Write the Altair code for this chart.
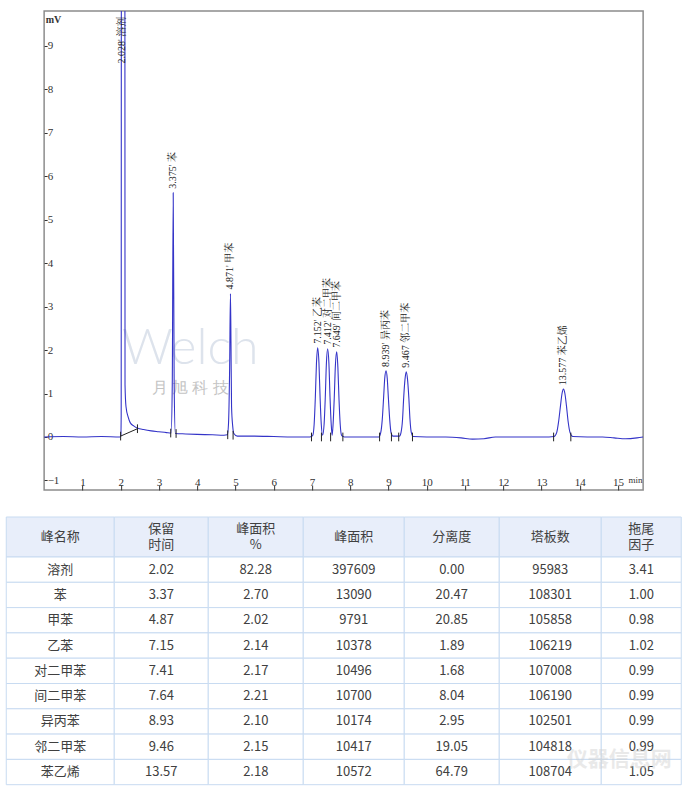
import altair as alt
import pandas as pd

SERIF = "Times New Roman, Liberation Serif, Noto Serif CJK SC, serif"
SANS = "Microsoft YaHei, Noto Sans CJK SC, Noto Sans, sans-serif"

# ---------------- chromatogram trace (min, mV) ----------------
trace_t = [0.0, 0.5, 1.0, 1.5, 1.98, 2.005, 2.015, 2.02, 2.11, 2.115, 2.14, 2.2, 2.25, 2.35,
           2.45, 2.6, 2.8, 3.0, 3.2, 3.32, 3.35, 3.375, 3.40, 3.43, 3.7, 4.0, 4.4, 4.7,
           4.79, 4.82, 4.85, 4.871, 4.885, 4.90, 4.93, 4.96, 5.05, 5.5, 6.0, 6.5, 6.95,
           7.02, 7.06, 7.09, 7.12, 7.152, 7.185, 7.215, 7.245, 7.28,
           7.32, 7.35, 7.38, 7.412, 7.445, 7.475, 7.505, 7.53,
           7.555, 7.585, 7.615, 7.649, 7.68, 7.71, 7.74, 7.78, 7.85, 8.3, 8.75,
           8.80, 8.84, 8.875, 8.905, 8.939, 8.97, 9.0, 9.035, 9.07, 9.12,
           9.29, 9.33, 9.37, 9.40, 9.435, 9.467, 9.50, 9.535, 9.565, 9.60, 9.65,
           10.0, 10.5, 10.9, 11.2, 11.5, 11.8, 12.5, 13.2,
           13.33, 13.40, 13.45, 13.50, 13.54, 13.577, 13.615, 13.655, 13.70, 13.75, 13.82,
           14.2, 14.6, 14.9, 15.2, 15.5, 15.66]
trace_mv = [0.0, 0.01, 0.0, 0.01, 0.0, 0.02, 0.5, 14.0, 14.0, 1.2, 0.7, 0.45, 0.33, 0.25,
            0.2, 0.17, 0.14, 0.12, 0.1, 0.09, 1.2, 5.62, 1.2, 0.08, 0.07, 0.06, 0.05, 0.04,
            0.05, 0.3, 1.6, 3.3, 2.2, 0.7, 0.25, 0.08, 0.02, 0.02, 0.01, 0.0, 0.0,
            0.03, 0.3, 0.9, 1.7, 2.05, 1.7, 0.9, 0.3, 0.04,
            0.3, 0.9, 1.7, 2.03, 1.7, 0.9, 0.3, 0.04,
            0.3, 0.9, 1.65, 1.96, 1.6, 0.85, 0.3, 0.03, 0.0, 0.0, 0.0,
            0.1, 0.4, 0.9, 1.35, 1.52, 1.35, 0.9, 0.4, 0.1, 0.02,
            0.02, 0.1, 0.4, 0.9, 1.33, 1.50, 1.33, 0.9, 0.4, 0.1, 0.01,
            0.0, 0.0, -0.02, -0.05, -0.04, 0.0, 0.0, 0.0,
            0.01, 0.1, 0.35, 0.72, 1.0, 1.10, 1.0, 0.72, 0.35, 0.1, 0.01,
            0.0, 0.0, -0.02, -0.04, -0.02, 0.0]

# peak annotations
peak_t = [2.028, 3.375, 4.871, 7.152, 7.412, 7.649, 8.939, 9.467, 13.577]
peak_label = ["2.028'  溶剂", "3.375'  苯", "4.871'  甲苯", "7.152'  乙苯", "7.412'  对二甲苯",
              "7.649'  间二甲苯", "8.939'  异丙苯", "9.467  邻二甲苯", "13.577  苯乙烯"]
label_mv = [8.5, 5.62, 3.3, 2.05, 2.03, 1.96, 1.52, 1.50, 1.10]

# integration markers (start / end of each peak) and solvent baseline segment
mark_t = [2.0, 2.44, 3.31, 3.45, 4.80, 4.94, 6.99, 7.25, 7.49, 7.81, 8.77, 9.08, 9.27, 9.63, 13.32, 13.77]
mark_mv = [0.02, 0.19, 0.09, 0.08, 0.05, 0.04, 0.0, 0.0, 0.0, 0.0, 0.0, 0.0, 0.0, 0.0, 0.0, 0.0]
seg_t0, seg_t1 = [2.0], [2.44]
seg_mv0, seg_mv1 = [0.02], [0.19]

x_tick_values = list(range(1, 16))
y_tick_values = list(range(-1, 10))

# ---------------- table ----------------
header = ["峰名称", "保留\n时间", "峰面积\n%", "峰面积", "分离度", "塔板数", "拖尾\n因子"]
names = ["溶剂", "苯", "甲苯", "乙苯", "对二甲苯", "间二甲苯", "异丙苯", "邻二甲苯", "苯乙烯"]
ret_time = [2.02, 3.37, 4.87, 7.15, 7.41, 7.64, 8.93, 9.46, 13.57]
area_pct = [82.28, 2.70, 2.02, 2.14, 2.17, 2.21, 2.10, 2.15, 2.18]
area = [397609, 13090, 9791, 10378, 10496, 10700, 10174, 10417, 10572]
resolution = [0.00, 20.47, 20.85, 1.89, 1.68, 8.04, 2.95, 19.05, 64.79]
plates = [95983, 108301, 105858, 106219, 107008, 106190, 102501, 104818, 108704]
tailing = [3.41, 1.00, 0.98, 1.02, 0.99, 0.99, 0.99, 0.99, 1.05]

# table layout (pixel units)
col_w = [108, 94, 95, 101, 95, 102, 80]
header_h = 40
row_h = 25.3
line_h = 16

# ---------------- build data frames ----------------
trace_df = pd.DataFrame({"t": trace_t, "mv": trace_mv})
label_df = pd.DataFrame({"t": peak_t, "mv": label_mv, "label": peak_label})
tick_half = 0.1
mark_df = pd.DataFrame({"t": mark_t, "lo": [v - tick_half for v in mark_mv],
                        "hi": [v + tick_half for v in mark_mv]})
seg_df = pd.DataFrame({"t0": seg_t0, "t1": seg_t1, "v0": seg_mv0, "v1": seg_mv1})
wm_df = pd.DataFrame({"t": [3.82, 3.82], "mv": [2.02, 1.12],
                      "txt": ["Welch", "月  旭  科  技"], "kind": ["logo", "cn"]})

edges = [0]
for w in col_w:
    edges.append(edges[-1] + w)
total_h = header_h + row_h * len(names)

cells = []
for ci, h in enumerate(header):
    n_lines = h.count("\n") + 1
    cells.append({"x0": edges[ci], "x1": edges[ci + 1], "y0": 0, "y1": header_h,
                  "xc": (edges[ci] + edges[ci + 1]) / 2,
                  "yc": header_h / 2 - (n_lines - 1) * line_h / 2,
                  "text": h, "kind": "header"})
for ri in range(len(names)):
    row = [names[ri], f"{ret_time[ri]:.2f}", f"{area_pct[ri]:.2f}", str(area[ri]),
           f"{resolution[ri]:.2f}", str(plates[ri]), f"{tailing[ri]:.2f}"]
    y0 = header_h + ri * row_h
    for ci, txt in enumerate(row):
        cells.append({"x0": edges[ci], "x1": edges[ci + 1], "y0": y0, "y1": y0 + row_h,
                      "xc": (edges[ci] + edges[ci + 1]) / 2, "yc": y0 + row_h / 2,
                      "text": txt, "kind": "body"})
cell_df = pd.DataFrame(cells)
tbl_wm_df = pd.DataFrame({"xc": [edges[-1] - 62], "yc": [total_h - 25], "txt": ["仪器信息网"]})

# ---------------- chromatogram ----------------
xs = alt.Scale(domain=[0, 15.66], nice=False, zero=False)
ys = alt.Scale(domain=[-1.22, 9.8], nice=False, zero=False)

x_axis = alt.Axis(values=x_tick_values, domain=False, grid=False, offset=-5, tickSize=5,
                  tickColor="#333", labelPadding=-5, labelBaseline="alphabetic",
                  labelFont=SERIF, labelFontSize=11, labelColor="#333",
                  title="min", titleFont=SERIF, titleFontSize=9, titleFontWeight="normal",
                  titleColor="#333", titleX=598, titleY=-3, titleAlign="right",
                  titleBaseline="alphabetic")
y_axis = alt.Axis(values=y_tick_values, domain=False, grid=False, offset=-3, tickSize=3,
                  tickColor="#333", labelAlign="left", labelPadding=-3, labelBaseline="middle",
                  labelFont=SERIF, labelFontSize=11, labelColor="#333",
                  title="mV", titleAngle=0, titleX=-2, titleY=8, titleAlign="left",
                  titleBaseline="middle", titleFont=SERIF, titleFontSize=10,
                  titleFontWeight="bold", titleColor="#333")

base = alt.Chart(trace_df)

watermark = alt.Chart(wm_df).mark_text(font="Lato, Open Sans, sans-serif", fontWeight=300).encode(
    x=alt.X("t:Q", scale=xs, axis=x_axis),
    y=alt.Y("mv:Q", scale=ys, axis=y_axis),
    text="txt:N",
    size=alt.Size("kind:N", scale=alt.Scale(domain=["logo", "cn"], range=[50, 16]), legend=None),
    color=alt.Color("kind:N", scale=alt.Scale(domain=["logo", "cn"], range=["#dde3ec", "#c4c4c4"]), legend=None),
)

trace = base.mark_line(color="#3434c8", strokeWidth=1.1, interpolate="monotone", clip=True).encode(
    x=alt.X("t:Q", scale=xs),
    y=alt.Y("mv:Q", scale=ys),
)

marks = alt.Chart(mark_df).mark_rule(color="#222", strokeWidth=1).encode(
    x=alt.X("t:Q", scale=xs), y=alt.Y("lo:Q", scale=ys), y2="hi:Q")

segs = alt.Chart(seg_df).mark_rule(color="#222", strokeWidth=1).encode(
    x=alt.X("t0:Q", scale=xs), x2="t1:Q", y=alt.Y("v0:Q", scale=ys), y2="v1:Q")

labels = alt.Chart(label_df).mark_text(angle=270, align="left", baseline="middle", dx=4,
                                       font=SERIF, fontSize=10, color="#222").encode(
    x=alt.X("t:Q", scale=xs), y=alt.Y("mv:Q", scale=ys), text="label:N")

chrom = alt.layer(watermark, trace, segs, marks, labels).properties(
    width=599, height=479,
    view=alt.ViewBackground(stroke="#8c8c8c", strokeWidth=1.5),
)

# ---------------- table ----------------
txs = alt.Scale(domain=[0, edges[-1]], nice=False, zero=False)
tys = alt.Scale(domain=[0, total_h], nice=False, zero=False, reverse=True)

rects = alt.Chart(cell_df).mark_rect(stroke="#c8dbf1", strokeWidth=1).encode(
    x=alt.X("x0:Q", scale=txs, axis=None), x2="x1:Q",
    y=alt.Y("y0:Q", scale=tys, axis=None), y2="y1:Q",
    fill=alt.Fill("kind:N", scale=alt.Scale(domain=["header", "body"], range=["#e8eefa", "#ffffff"]), legend=None),
)
texts = alt.Chart(cell_df).mark_text(font=SANS, fontSize=13, color="#404040",
                                     lineBreak="\n", lineHeight=line_h, baseline="middle").encode(
    x=alt.X("xc:Q", scale=txs), y=alt.Y("yc:Q", scale=tys), text="text:N")
tbl_wm = alt.Chart(tbl_wm_df).mark_text(font=SANS, fontSize=21, fontWeight="bold",
                                        color="#d0d0d0", opacity=0.45).encode(
    x=alt.X("xc:Q", scale=txs), y=alt.Y("yc:Q", scale=tys), text="txt:N")

table = alt.layer(rects, texts, tbl_wm).properties(
    width=edges[-1], height=total_h,
    view=alt.ViewBackground(strokeWidth=0),
)

chart = alt.vconcat(chrom, table, spacing=24, center=True).properties(
    padding={"left": 5, "top": 10, "right": 5, "bottom": 2},
    background="white",
).configure_view(strokeWidth=0)

chart.save("out.html", embed_options={"renderer": "svg", "actions": False})
